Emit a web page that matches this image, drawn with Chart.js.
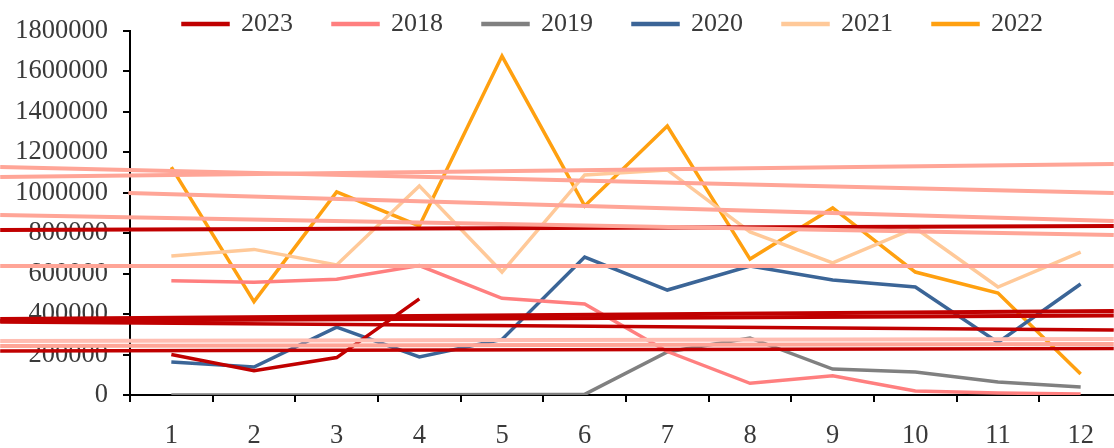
<!DOCTYPE html>
<html>
<head>
<meta charset="utf-8">
<style>
html,body{margin:0;padding:0;overflow:hidden;background:#ffffff;width:1114px;height:448px}
canvas{display:block}
</style>
<script src="https://cdn.jsdelivr.net/npm/chart.js@4/dist/chart.umd.min.js"></script>
</head>
<body>
<canvas id="c" width="1122" height="448"></canvas>
<script>
// ---- data ----
const categories = ['1','2','3','4','5','6','7','8','9','10','11','12'];
const seriesNames = ['2023','2018','2019','2020','2021','2022'];
const s2023 = [200000, 120000, 185000, 475000, null, null, null, null, null, null, null, null];
const s2018 = [565000, 558000, 572000, 640000, 478000, 450000, 215000, 58000, 95000, 20000, 10000, 5000];
const s2019 = [0, 0, 0, 1000, 2000, 3000, 213000, 282000, 128000, 114000, 64000, 40000];
const s2020 = [163000, 138000, 336000, 188000, 275000, 682000, 519000, 638000, 569000, 534000, 260000, 549000];
const s2021 = [687000, 720000, 643000, 1034000, 608000, 1088000, 1113000, 806000, 653000, 826000, 534000, 707000];
const s2022 = [1127000, 462000, 1004000, 836000, 1676000, 935000, 1330000, 672000, 925000, 608000, 504000, 104000];
const yMin = 0, yMax = 1800000, yStep = 200000;

// overlaid stroke marks seen across the picture (start/end in axis units: x = category position, y = value)
const wmPinkA = [{x:-2.07, y:1078000}, {x:11.4, y:1142000}];
const wmPinkB = [{x:-2.07, y:1127000}, {x:11.4, y:999000}];
const wmPinkC = [{x:-0.52, y:999000}, {x:11.4, y:860000}];
const wmPinkD = [{x:-2.07, y:890000}, {x:11.4, y:791000}];
const wmPinkE = [{x:-2.07, y:638000}, {x:11.4, y:638000}];
const wmPinkP1 = [{x:-2.07, y:267000}, {x:11.4, y:277000}];
const wmPinkP2 = [{x:-2.07, y:242000}, {x:11.4, y:252000}];
const wmRedF = [{x:-2.07, y:816000}, {x:11.4, y:836000}];
const wmRedG1 = [{x:-2.07, y:376000}, {x:11.4, y:415000}];
const wmRedG2 = [{x:-2.07, y:366000}, {x:11.4, y:393000}];
const wmRedH = [{x:-2.07, y:361000}, {x:11.4, y:321000}];
const wmRedI = [{x:-2.07, y:218000}, {x:11.4, y:230000}];

// ---- styles ----
const seriesColors = ['#C00000', '#FF7F7F', '#808080', '#3B6597', '#FFC999', '#FFA010'];
const seriesValues = [s2023, s2018, s2019, s2020, s2021, s2022];
const textColor = '#3A3A3A';
const fontFamily = "'Liberation Serif', 'Times New Roman', serif";
const pink = '#FFA597', lightPink = '#FFBDB2', darkRed = '#C00000';

const datasets = seriesNames.map((name, i) => ({
  label: name,
  data: seriesValues[i],
  xAxisID: 'x',
  yAxisID: 'y',
  borderColor: seriesColors[i],
  backgroundColor: seriesColors[i],
  borderWidth: 3.5,
  pointRadius: 0,
  pointHoverRadius: 0,
  tension: 0,
  spanGaps: false,
  order: 1
}));

const wm = [
  [wmPinkA, pink, 4], [wmPinkB, pink, 4], [wmPinkC, pink, 4], [wmPinkD, pink, 4], [wmPinkE, pink, 4],
  [wmPinkP1, lightPink, 4], [wmPinkP2, pink, 4],
  [wmRedF, darkRed, 4], [wmRedG1, darkRed, 4], [wmRedG2, darkRed, 4], [wmRedH, darkRed, 3.5], [wmRedI, darkRed, 3.5]
];
wm.forEach(([pts, col, w], k) => datasets.push({
  label: 'wm' + k,
  data: pts,
  xAxisID: 'xw',
  yAxisID: 'y',
  borderColor: col,
  backgroundColor: col,
  borderWidth: w,
  pointRadius: 0,
  pointHoverRadius: 0,
  clip: false,
  order: 0
}));

const legendPlace = {
  id: 'legendPlace',
  afterLayout(chart) {
    const lg = chart.legend;
    if (!lg) return;
    lg.top = -29;
    lg.bottom = 45;
    lg.left = 143;
  }
};

const tickFont = {family: fontFamily, size: 26.5};

new Chart(document.getElementById('c'), {
  type: 'line',
  data: {labels: categories, datasets},
  options: {
    responsive: false,
    animation: false,
    events: [],
    layout: {padding: 0},
    plugins: {
      legend: {
        display: true,
        position: 'top',
        align: 'start',
        maxHeight: 31,
        labels: {
          boxWidth: 45,
          boxHeight: 1,
          padding: 40,
          color: textColor,
          font: {family: fontFamily, size: 26},
          filter: (item) => item.datasetIndex < seriesNames.length
        }
      },
      tooltip: {enabled: false}
    },
    scales: {
      x: {
        type: 'category',
        position: 'bottom',
        offset: true,
        grid: {offset: true, drawOnChartArea: false, drawTicks: true, tickLength: 7, color: '#000', lineWidth: 2},
        border: {display: true, color: '#000', width: 2},
        ticks: {color: textColor, font: tickFont, padding: 18, maxRotation: 0, autoSkip: false},
        afterFit(s) { s.height = 53; }
      },
      xw: {
        type: 'linear',
        display: false,
        min: -0.5,
        max: 11.5
      },
      y: {
        type: 'linear',
        position: 'left',
        min: yMin,
        max: yMax,
        ticks: {stepSize: yStep, padding: 15, color: textColor, font: tickFont, callback: (v) => String(v)},
        grid: {drawOnChartArea: false, drawTicks: true, tickLength: 7, color: '#000', lineWidth: 2},
        border: {display: true, color: '#000', width: 2},
        afterFit(s) { s.width = 130; }
      }
    }
  },
  plugins: [legendPlace]
});
</script>
</body>
</html>
